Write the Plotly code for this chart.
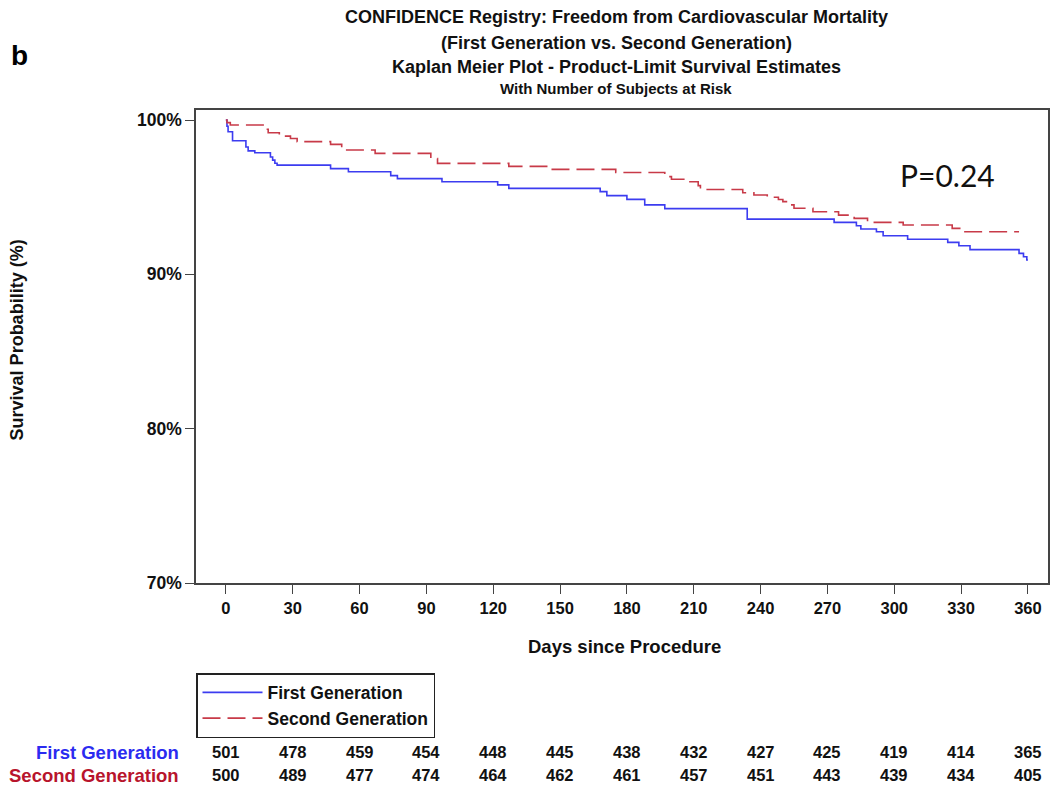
import plotly.graph_objects as go

# ---- data ----
first_t = [0, 0.5, 1, 3, 9, 10, 13, 20, 21, 22, 23, 47, 55, 74, 77, 97, 122, 127, 168, 171,
           180, 188, 197, 234, 273, 283, 285, 292, 295, 306, 324, 329, 334, 356, 358, 359.5, 360]
first_s = [100.0, 99.6, 99.24, 98.66, 98.25, 98.0, 97.88, 97.6, 97.4, 97.2, 97.08, 96.85, 96.65,
           96.4, 96.2, 96.0, 95.8, 95.57, 95.36, 95.1, 94.86, 94.5, 94.26, 93.58, 93.37, 93.15,
           92.94, 92.76, 92.5, 92.27, 92.07, 91.85, 91.6, 91.36, 91.14, 90.93, 90.93]

second_t = [0, 0.5, 2, 17.5, 19, 24, 29, 32, 47, 52, 67, 92, 95, 127, 144, 175, 197, 200, 207,
            212, 213, 232, 237, 243, 248, 250, 254, 255, 263.5, 275, 282, 288, 304, 326, 331, 356]
second_s = [100.0, 99.83, 99.68, 99.4, 99.18, 98.96, 98.8, 98.6, 98.42, 98.06, 97.84, 97.5, 97.19,
            97.0, 96.8, 96.6, 96.33, 96.16, 96.0, 95.75, 95.5, 95.29, 95.14, 95.0, 94.85, 94.71,
            94.5, 94.28, 94.06, 93.84, 93.63, 93.37, 93.2, 92.98, 92.76, 92.76]

risk_days = [0, 30, 60, 90, 120, 150, 180, 210, 240, 270, 300, 330, 360]
risk_first = [501, 478, 459, 454, 448, 445, 438, 432, 427, 425, 419, 414, 365]
risk_second = [500, 489, 477, 474, 464, 462, 461, 457, 451, 443, 439, 434, 405]

y_ticks = [70, 80, 90, 100]
y_labels = ["70%", "80%", "90%", "100%"]

title_lines = [
    "CONFIDENCE Registry: Freedom from Cardiovascular Mortality",
    "(First Generation vs. Second Generation)",
    "Kaplan Meier Plot - Product-Limit Survival Estimates",
    "With Number of Subjects at Risk",
]

BLUE = "#3c3cf0"
RED = "#c83a48"
LBL_BLUE = "#2b2bf0"
LBL_RED = "#b8142c"
FONT = "Liberation Sans"
TXT = "#111111"

fig = go.Figure()
fig.add_trace(go.Scatter(x=first_t, y=first_s, mode="lines", line_shape="hv",
                         line=dict(color=BLUE, width=1.6), name="First Generation"))
fig.add_trace(go.Scatter(x=second_t, y=second_s, mode="lines", line_shape="hv",
                         line=dict(color=RED, width=1.6, dash="18px,7px"), name="Second Generation"))

W, H = 1054, 789
L, R, T, B = 196, 4, 110, 206
ph = H - T - B
pw = W - L - R

def py(p):
    return (H - B - p) / ph

def px(p):
    return (p - L) / pw

def bold(size, color=TXT, family=FONT):
    return dict(family=family, size=size, color=color, weight="bold")

ann = []
tsizes = [18, 18, 18, 15]
tys = [17, 43, 67, 89]
for line, s, yy in zip(title_lines, tsizes, tys):
    ann.append(dict(text=line, xref="paper", yref="paper", x=px(617), y=py(yy),
                    xanchor="center", yanchor="middle", showarrow=False, font=bold(s)))
ann.append(dict(text="b", xref="paper", yref="paper", x=px(9), y=py(55),
                xanchor="left", yanchor="middle", showarrow=False, font=bold(28, "#000")))
ann.append(dict(text="Survival Probability (%)", xref="paper", yref="paper",
                x=px(17), y=py(340), textangle=-90, xanchor="center", yanchor="middle",
                showarrow=False, font=bold(18)))
ann.append(dict(text="Days since Procedure", xref="paper", yref="paper",
                x=px(626), y=py(646), xanchor="center", yanchor="middle",
                showarrow=False, font=bold(18.5)))
ann.append(dict(text="P=0.24", xref="x", yref="y", x=323.7, y=96.44,
                xanchor="center", yanchor="middle", showarrow=False,
                font=dict(family="Lato", size=30, color=TXT)))
ann.append(dict(text="First Generation", xref="paper", yref="paper", x=px(181), y=py(752),
                xanchor="right", yanchor="middle", showarrow=False, font=bold(18.5, LBL_BLUE)))
ann.append(dict(text="Second Generation", xref="paper", yref="paper", x=px(181), y=py(775),
                xanchor="right", yanchor="middle", showarrow=False, font=bold(18.5, LBL_RED)))
for d, a, b in zip(risk_days, risk_first, risk_second):
    ann.append(dict(text=str(a), xref="x", yref="paper", x=d, y=py(752),
                    xanchor="center", yanchor="middle", showarrow=False, font=bold(16.5)))
    ann.append(dict(text=str(b), xref="x", yref="paper", x=d, y=py(775),
                    xanchor="center", yanchor="middle", showarrow=False, font=bold(16.5)))

fig.update_layout(
    width=W, height=H,
    margin=dict(l=L, r=R, t=T, b=B, pad=0),
    paper_bgcolor="white", plot_bgcolor="white",
    annotations=ann,
    showlegend=True,
    legend=dict(x=0, y=py(673), xanchor="left", yanchor="top",
                bordercolor="#222", borderwidth=1.5, bgcolor="white",
                font=bold(17.5), tracegroupgap=0, itemwidth=60,
                entrywidth=230, entrywidthmode="pixels"),
    xaxis=dict(range=[-13.4, 369], tickvals=risk_days, ticks="outside", ticklen=9,
               tickcolor="#444", showgrid=False, zeroline=False, showline=True,
               linecolor="#444", linewidth=1.5, mirror=True, tickfont=bold(16.5)),
    yaxis=dict(range=[70, 100.65], tickvals=y_ticks, ticktext=y_labels, ticks="outside",
               ticklen=9, tickcolor="#444", showgrid=False, zeroline=False, showline=True,
               linecolor="#444", linewidth=1.5, mirror=True, tickfont=bold(17.5)),
)

fig.write_html("out.html", config={"displayModeBar": False},
               post_script="document.body.style.margin='0';document.body.style.overflow='hidden';")
